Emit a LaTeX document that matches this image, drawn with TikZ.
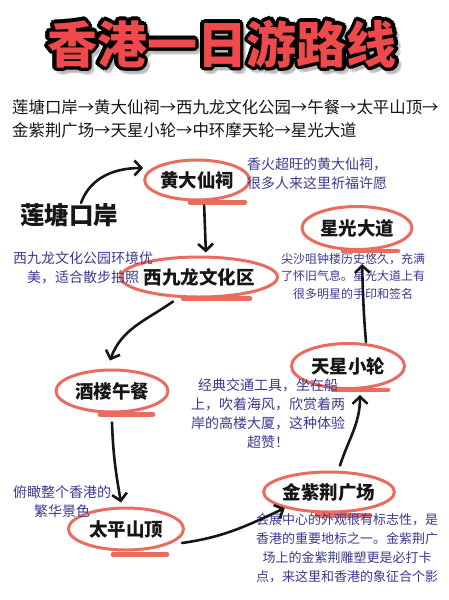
\documentclass[tikz,border=0pt]{standalone}
\usepackage{fontspec}
\usepackage{tikz}
\usetikzlibrary{arrows.meta,positioning,calc,shapes.geometric}
\newfontfamily\cjk{Noto Sans CJK SC}
\definecolor{titlered}{RGB}{238,74,75}
\definecolor{coralring}{RGB}{234,108,94}
\definecolor{noteblue}{RGB}{58,58,145}
\definecolor{inkblack}{RGB}{22,22,22}
\tikzset{
  base/.style={font=\cjk, inner sep=0pt, text=inkblack},
  ttl/.style={base, font=\cjk\bfseries\fontsize{50}{50}\selectfont},
  route/.style={base, font=\cjk\fontsize{16.4}{23}\selectfont, align=left},
  spot/.style={base, ellipse, draw=coralring, line width=3pt, minimum width=112pt, minimum height=42pt,
    font=\cjk\bfseries\fontsize{18.5}{18.5}\selectfont},
  start/.style={base, font=\cjk\bfseries\fontsize{24.5}{24.5}\selectfont},
  note/.style={base, text=noteblue, align=center, font=\cjk\fontsize{14}{19}\selectfont},
  uline/.style={draw=coralring, line width=4.5pt, line cap=round},
  arr/.style={-{Straight Barb[length=7pt,width=15pt]}, line width=2.6pt, line cap=round, draw=inkblack},
}
\begin{document}
\begin{tikzpicture}[x=1pt,y=1pt]
  \fill[white] (0,0) rectangle (449,-600);
  \useasboundingbox (0,0) rectangle (449,-600);
  % title, with shadow and black outline
  \coordinate (ttlc) at (222,-44);
  \foreach \a [count=\i] in {0,45,...,315}
    \node[ttl,text=black!30,opacity=.5] (ttls\i) at ($(ttlc)+(3,-4)+(\a:3)$) {香港一日游路线};
  \foreach \a [count=\i] in {0,22.5,...,337.5}
    \node[ttl,text=black] (ttlo\i) at ($(ttlc)+(\a:3.4)$) {香港一日游路线};
  \node[ttl,text=titlered] (ttl) at (ttlc) {香港一日游路线};
  % whole route
  \node[route,anchor=west] (rt) at (12,-118.5) {莲塘口岸→黄大仙祠→西九龙文化公园→午餐→太平山顶→\\金紫荆广场→天星小轮→中环摩天轮→星光大道};
  % stops
  \node[start] (lt) at (69,-215) {莲塘口岸};
  \node[spot,minimum width=100pt,minimum height=40pt] (hdx) at (197,-180) {黄大仙祠};
  \node[spot,minimum width=128pt,minimum height=40pt] (xjl) at (199,-277) {西九龙文化区};
  \node[spot] (jl) at (112,-391) {酒楼午餐};
  \node[spot,minimum width=115pt] (tps) at (126,-529) {太平山顶};
  \node[spot,minimum width=118pt,minimum height=40pt] (jzj) at (329,-492) {金紫荆广场};
  \node[spot,minimum width=113pt,minimum height=45pt] (tx) at (348,-366) {天星小轮};
  \node[spot,minimum width=110pt,minimum height=43pt] (xg) at (357,-228) {星光大道};
  \foreach \n/\dx/\dy/\len in {hdx/-7/-1/55,xjl/-16/0/67,jl/-12/-1/53,tps/-13/-3/54,jzj/-12/-2/53,tx/-15/0/55,xg/-14/0/55}
    {\draw[uline] ([xshift=\dx,yshift=\dy]\n.south) -- ++(\len,0);}
  % notes
  \node[note,anchor=west,align=left] (n1) at (247,-173.5) {香火超旺的黄大仙祠，\\很多人来这里祈福许愿};
  \node[note] (n2) at (83,-267.5) {西九龙文化公园环境优\\美，适合散步拍照};
  \node[note,font=\cjk\fontsize{12}{17.5}\selectfont] (n3) at (353,-276) {尖沙咀钟楼历史悠久，充满\\了怀旧气息。星光大道上有\\很多明星的手印和签名};
  \node[note] (n4) at (268,-413.5) {经典交通工具，坐在船\\上，吹着海风，欣赏着两\\岸的高楼大厦，这种体验\\超赞！};
  \node[note] (n5) at (62,-502) {俯瞰整个香港的\\繁华景色};
  \node[note,font=\cjk\fontsize{13}{19}\selectfont] (n6) at (347,-548.5) {会展中心的外观很有标志性，是\\香港的重要地标之一。金紫荆广\\场上的金紫荆雕塑更是必打卡\\点，来这里和香港的象征合个影};
  % connectors
  \draw[arr] ([xshift=12]lt.north) to[out=70,in=180] ([yshift=12]hdx.west);
  \draw[arr,shorten <=4pt,shorten >=3pt] ([xshift=7]hdx.south) -- ([xshift=7]xjl.north);
  \draw[arr] ([xshift=-26,yshift=-3]xjl.south) to[out=215,in=70] ([xshift=-2,yshift=8]jl.north);
  \draw[arr] ([yshift=-9]jl.south) to[out=-88,in=100] ([shift={(-5,4)}]tps.north);
  \draw[arr] ([shift={(-3,-14)}]tps.east) to[out=8,in=205] (jzj.200);
  \draw[arr] ([shift={(11,5)}]jzj.north) to[out=72,in=-90] ([shift={(12,-5)}]tx.south);
  \draw[arr] ([xshift=18]tx.north) to[out=95,in=-88] ([shift={(5,-13)}]xg.south);
\end{tikzpicture}
\end{document}
